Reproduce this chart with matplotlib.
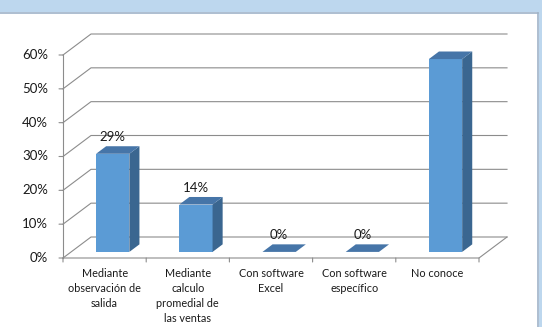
import matplotlib
matplotlib.use("Agg")
import matplotlib.pyplot as plt
from matplotlib.patches import Polygon, Rectangle
from matplotlib.lines import Line2D

plt.rcParams['font.family'] = ['Lato', 'DejaVu Sans']

categories = ["Mediante\nobservación de\nsalida",
              "Mediante\ncalculo\npromedial de\nlas ventas",
              "Con software\nExcel",
              "Con software\nespecífico",
              "No conoce"]
values = [0.29, 0.14, 0.0, 0.0, 0.57]
labels = ["29%", "14%", "0%", "0%", "57%"]
yticks = [0.0, 0.1, 0.2, 0.3, 0.4, 0.5, 0.6]
ytick_labels = ["0%", "10%", "20%", "30%", "40%", "50%", "60%"]

W, H = 542, 327
fig = plt.figure(figsize=(W / 100, H / 100), dpi=100)
fig.patch.set_facecolor('white')

# decorative frame
fig.patches.append(Rectangle((0, 1 - 12 / H), 1, 12 / H, transform=fig.transFigure,
                             facecolor='#BDD7EE', edgecolor='none', zorder=0))
fig.patches.append(Rectangle((539 / W, 0), 3 / W, 1, transform=fig.transFigure,
                             facecolor='#BDD7EE', edgecolor='none', zorder=0))
fig.lines.append(Line2D([0, 538 / W], [1 - 12.5 / H, 1 - 12.5 / H], transform=fig.transFigure,
                        color='#9FB3C8', lw=1.2))
fig.lines.append(Line2D([538 / W, 538 / W], [0, 1 - 12.5 / H], transform=fig.transFigure,
                        color='#9FB3C8', lw=1.2))

# front plane of the plot
x0, x1, yb, yt = 63, 479, 258, 55
ax = fig.add_axes([x0 / W, 1 - yb / H, (x1 - x0) / W, (yb - yt) / H])
n = len(categories)
ymax = 0.6
ax.set_xlim(0, n)
ax.set_ylim(0, ymax)
ax.axis('off')

# depth offsets (data units)
DX = 28 / (x1 - x0) * n
DY = 21 / (yb - yt) * ymax

def P(x, y, d):
    return (x + d * DX, y + d * DY)

grid_c = '#8C8C8C'
lw = 0.8
for v in yticks:
    ax.plot([P(0, v, 0)[0], P(0, v, 1)[0], P(n, v, 1)[0]],
            [P(0, v, 0)[1], P(0, v, 1)[1], P(n, v, 1)[1]],
            color=grid_c, lw=lw, clip_on=False, zorder=1)
# floor front and right edges
ax.plot([0, n, P(n, 0, 1)[0]], [0, 0, P(n, 0, 1)[1]], color=grid_c, lw=lw, clip_on=False, zorder=1)
# y axis
ax.plot([0, 0], [0, ymax], color=grid_c, lw=lw, clip_on=False, zorder=1)

txt_c = '#1A1A1A'
# tick marks
tick_px = 4
for v, lab in zip(yticks, ytick_labels):
    ax.annotate('', xy=(0, v), xytext=(-tick_px, 0), textcoords='offset pixels',
                arrowprops=dict(arrowstyle='-', color=grid_c, lw=lw, shrinkA=0, shrinkB=0))
    ax.annotate(lab, xy=(0, v), xytext=(-15, 0), textcoords='offset pixels',
                ha='right', va='center', fontsize=9.5, color=txt_c)
for i in range(n + 1):
    ax.annotate('', xy=(i, 0), xytext=(0, -tick_px), textcoords='offset pixels',
                arrowprops=dict(arrowstyle='-', color=grid_c, lw=lw, shrinkA=0, shrinkB=0))

# bars
front_c = '#5B9BD5'
side_c = '#3A6690'
top_c = '#4675A8'
bw = 0.4
d0, d1 = 0.29, 0.65
for i, (v, lab) in enumerate(zip(values, labels)):
    xl = i + 0.5 - bw / 2
    xr = i + 0.5 + bw / 2
    top = [P(xl, v, d0), P(xr, v, d0), P(xr, v, d1), P(xl, v, d1)]
    if v > 0:
        front = [P(xl, 0, d0), P(xr, 0, d0), P(xr, v, d0), P(xl, v, d0)]
        side = [P(xr, 0, d0), P(xr, 0, d1), P(xr, v, d1), P(xr, v, d0)]
        ax.add_patch(Polygon(front, closed=True, facecolor=front_c, edgecolor='none',
                             clip_on=False, zorder=3))
        ax.add_patch(Polygon(side, closed=True, facecolor=side_c, edgecolor='none',
                             clip_on=False, zorder=3))
    ax.add_patch(Polygon(top, closed=True, facecolor=top_c, edgecolor='none',
                         clip_on=False, zorder=3))
    lx, ly = P(i + 0.5, v, d1)
    ax.annotate(lab, xy=(i + 0.5 + d0 * DX, ly), xytext=(0, 9), textcoords='offset pixels',
                ha='center', va='center', fontsize=9.5, color=txt_c, zorder=4)

for i, c in enumerate(categories):
    ax.annotate(c, xy=(i + 0.5, 0), xytext=(0, -10), textcoords='offset pixels',
                ha='center', va='top', fontsize=7.8, color=txt_c, linespacing=1.45)

fig.savefig('out.png', dpi=100)
